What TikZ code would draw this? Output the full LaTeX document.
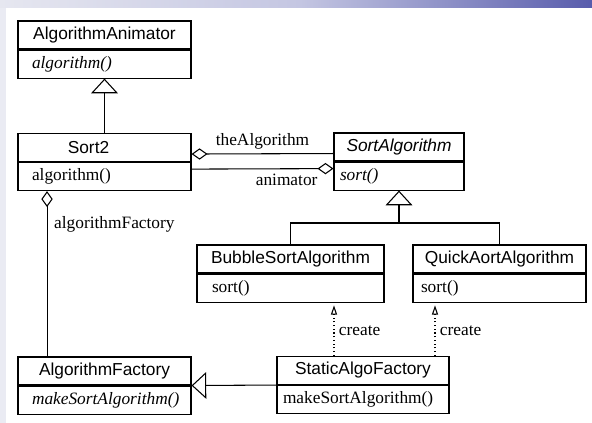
\documentclass[tikz,border=0pt]{standalone}
\usepackage{fontspec}
\setmainfont{Liberation Serif}
\setsansfont{Liberation Sans}
\usetikzlibrary{positioning,arrows.meta}

\definecolor{bandblue}{RGB}{88,92,172}
\definecolor{bandmid}{RGB}{196,198,226}
\definecolor{bandpale}{RGB}{230,231,240}
\definecolor{edgepale}{RGB}{234,235,243}

\tikzset{
  classhead/.style={draw, minimum height=21pt, inner sep=2pt, font=\fontsize{13}{15}\selectfont\sffamily},
  classops/.style={draw, minimum height=21pt, inner ysep=2pt, align=left},
  inherit/.style={-{Triangle[open,length=11pt,width=20pt]}},
  aggr/.style={{Diamond[open,length=12pt,width=8.5pt]}-},
  create/.style={dotted, -{Triangle[open,length=7pt,width=4.5pt]}, shorten >=2pt},
}

\begin{document}
\begin{tikzpicture}[x=0.75pt, y=-0.75pt, line width=0.8pt, font=\fontsize{13}{15}\selectfont]

% background
\useasboundingbox (0,0) rectangle (592,423);
\fill[white] (0,0) rectangle (592,423);
\shade[left color=bandpale, right color=bandmid] (0,0) rectangle (300,8);
\shade[left color=bandmid, right color=bandblue] (300,0) rectangle (592,8);
\fill[edgepale] (0,8) rectangle (6,423);

% classes
\node[classhead, minimum width=129.75pt] (animhead) at (104.5,35) {AlgorithmAnimator};
\node[classops, below=0pt of animhead, inner xsep=10.5pt, text width=108.75pt] (animops) {\textit{algorithm()}};

\node[classhead, minimum width=129.75pt] (sort2head) at (104.5,147.5) {Sort2\hspace*{24pt}};
\node[classops, below=0pt of sort2head, inner xsep=10.5pt, text width=108.75pt] (sort2ops) {algorithm()};

\node[classhead, minimum width=97.5pt] (sortalgohead) at (399,147) {\itshape SortAlgorithm};
\node[classops, below=0pt of sortalgohead, inner xsep=4.5pt, text width=88.5pt] (sortops) {\textit{sort()}};

\node[classhead, minimum width=140.25pt] (bubblehead) at (290.5,259) {BubbleSortAlgorithm};
\node[classops, below=0pt of bubblehead, inner xsep=11.25pt, text width=117.75pt] (bubbleops) {sort()};

\node[classhead, minimum width=129.75pt] (quickhead) at (499.5,259) {QuickAortAlgorithm};
\node[classops, below=0pt of quickhead, inner xsep=6pt, text width=117.75pt] (quickops) {sort()};

\node[classhead, minimum width=129pt] (statichead) at (363,370.5) {StaticAlgoFactory};
\node[classops, below=0pt of statichead, inner xsep=4.5pt, text width=120pt] (staticops) {makeSortAlgorithm()};

\node[classhead, minimum width=129.75pt] (factoryhead) at (104.5,371) {AlgorithmFactory};
\node[classops, below=0pt of factoryhead, inner xsep=10.5pt, text width=108.75pt] (factoryops) {\textit{makeSortAlgorithm()}};

% inheritance
\draw[inherit] (sort2head.north) -- (animops.south);
\draw[inherit] (staticops.north west) -- (factoryops.north east);
\coordinate (split) at (399,223);
\draw (bubblehead.north) |- (split) -| (quickhead.north);
\draw[inherit] (split) -- (sortops.south);

% associations
\draw[aggr] ([yshift=-4.9pt]sort2head.east) -- ([yshift=-4.9pt]sortalgohead.west)
  node[midway, above] {theAlgorithm};
\draw[aggr] ([yshift=5.6pt]sortops.west) -- ([yshift=5.6pt]sort2ops.east)
  node[pos=0.33, below] {animator};
\draw[aggr] ([xshift=-43.1pt]sort2ops.south) -- ([xshift=-43.1pt]factoryhead.north)
  node[pos=0.2, right, inner xsep=5pt] {algorithmFactory};

% create
\path ([xshift=-21.75pt]statichead.north) coordinate (dep1)
      ([xshift=54pt]statichead.north) coordinate (dep2);
\draw[create] (dep1) -- (dep1 |- bubbleops.south) node[pos=0.48, right] {create};
\draw[create] (dep2) -- (dep2 |- quickops.south) node[pos=0.48, right] {create};

\end{tikzpicture}
\end{document}
